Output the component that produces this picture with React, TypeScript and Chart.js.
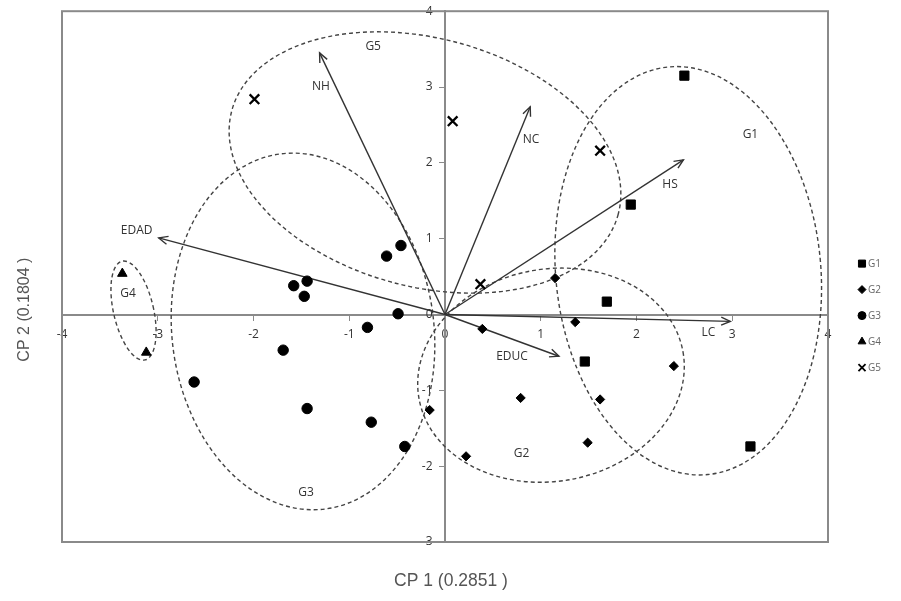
import React, { useEffect, useRef } from 'react';
import { Chart, registerables } from 'chart.js';
import { drawPoint } from 'chart.js/helpers';

Chart.register(...registerables);

// ---------- data ----------
const groupNames = ['G1', 'G2', 'G3', 'G4', 'G5'];

const g1X = [2.50, 1.94, 1.69, 1.46, 3.19];
const g1Y = [3.15, 1.45, 0.17, -0.62, -1.74];

const g2X = [0.39, 1.36, 2.39, 0.79, 1.62, 1.49, 0.22, 1.15, -0.16];
const g2Y = [-0.19, -0.10, -0.68, -1.10, -1.12, -1.69, -1.87, 0.48, -1.26];

const g3X = [-0.46, -0.61, -1.44, -1.58, -1.47, -0.49, -0.81, -1.69, -2.62, -1.44, -0.77, -0.42];
const g3Y = [0.91, 0.77, 0.44, 0.38, 0.24, 0.01, -0.17, -0.47, -0.89, -1.24, -1.42, -1.74];

const g4X = [-3.37, -3.12];
const g4Y = [0.54, -0.50];

const g5X = [-1.99, 0.08, 1.62, 0.37];
const g5Y = [2.84, 2.55, 2.16, 0.40];

// variable loadings (arrow tips)
const variableNames = ['NH', 'EDAD', 'NC', 'HS', 'LC', 'EDUC'];
const loadingX = [-1.31, -2.99, 0.89, 2.49, 2.98, 1.19];
const loadingY = [3.45, 1.01, 2.74, 2.04, -0.09, -0.55];

// label anchors (data units)
const variableLabelX = [-1.296, -3.22, 0.898, 2.35, 2.75, 0.70];
const variableLabelY = [3.00, 1.11, 2.31, 1.72, -0.24, -0.56];
const groupLabelX = [3.19, 0.80, -1.45, -3.31, -0.75];
const groupLabelY = [2.37, -1.84, -2.35, 0.275, 3.54];

// group ellipses (data units, rotation in degrees)
const ellipseCX = [2.54, 1.107, -1.483, -3.253, -0.209];
const ellipseCY = [0.577, -0.80, -0.223, 0.052, 2.005];
const ellipseRX = [1.384, 1.40, 1.368, 0.209, 2.089];
const ellipseRY = [2.70, 1.40, 2.36, 0.668, 1.638];
const ellipseRot = [-5.5, -10, -7, -13, 15];

const xTitle = 'CP 1 (0.2851 )';
const yTitle = 'CP 2 (0.1804 )';

const zip = (xs: number[], ys: number[]) => xs.map((x, i) => ({ x, y: ys[i] }));

const groupStyles: any[] = [
  { pointStyle: 'rect', radius: 6.5, legendRadius: 5, borderWidth: 1 },
  { pointStyle: 'rectRot', radius: 4.6, legendRadius: 4, borderWidth: 1 },
  { pointStyle: 'circle', radius: 5.2, legendRadius: 4, borderWidth: 1 },
  { pointStyle: 'triangle', radius: 5.5, legendRadius: 4.5, borderWidth: 1 },
  { pointStyle: 'crossRot', radius: 6.8, legendRadius: 5, borderWidth: 2.3 },
];

const AXIS_GRAY = '#8a8a8a';

const overlayPlugin = {
  id: 'overlay',
  beforeDatasetsDraw(chart: any) {
    const { ctx, chartArea, scales } = chart;
    const xs = scales.x;
    const ys = scales.y;
    const pxX = Math.abs(xs.getPixelForValue(1) - xs.getPixelForValue(0));
    const pxY = Math.abs(ys.getPixelForValue(0) - ys.getPixelForValue(1));
    ctx.save();
    // outer box
    ctx.strokeStyle = AXIS_GRAY;
    ctx.lineWidth = 2;
    ctx.strokeRect(chartArea.left, chartArea.top, chartArea.right - chartArea.left, chartArea.bottom - chartArea.top);
    // ellipses
    ctx.strokeStyle = '#444';
    ctx.lineWidth = 1.4;
    ctx.setLineDash([4, 3]);
    for (let i = 0; i < ellipseCX.length; i++) {
      ctx.beginPath();
      ctx.ellipse(
        xs.getPixelForValue(ellipseCX[i]),
        ys.getPixelForValue(ellipseCY[i]),
        ellipseRX[i] * pxX,
        ellipseRY[i] * pxY,
        (ellipseRot[i] * Math.PI) / 180,
        0,
        Math.PI * 2
      );
      ctx.stroke();
    }
    ctx.restore();
  },
  afterDatasetsDraw(chart: any) {
    const { ctx, chartArea, scales } = chart;
    const xs = scales.x;
    const ys = scales.y;
    ctx.save();
    // arrowheads
    ctx.strokeStyle = '#333';
    ctx.lineWidth = 1.4;
    ctx.setLineDash([]);
    chart.data.datasets.forEach((ds: any, di: number) => {
      if (!ds.isArrow) return;
      const meta = chart.getDatasetMeta(di);
      const p0 = meta.data[0];
      const p1 = meta.data[1];
      const ang = Math.atan2(p1.y - p0.y, p1.x - p0.x);
      const len = 10;
      const spread = 0.42;
      ctx.beginPath();
      ctx.moveTo(p1.x - len * Math.cos(ang - spread), p1.y - len * Math.sin(ang - spread));
      ctx.lineTo(p1.x, p1.y);
      ctx.lineTo(p1.x - len * Math.cos(ang + spread), p1.y - len * Math.sin(ang + spread));
      ctx.stroke();
    });
    // labels
    ctx.fillStyle = '#333';
    ctx.font = '12px "Open Sans"';
    ctx.textAlign = 'center';
    ctx.textBaseline = 'middle';
    variableNames.forEach((n, i) => {
      ctx.fillText(n, xs.getPixelForValue(variableLabelX[i]), ys.getPixelForValue(variableLabelY[i]));
    });
    groupNames.forEach((n, i) => {
      ctx.fillText(n, xs.getPixelForValue(groupLabelX[i]), ys.getPixelForValue(groupLabelY[i]));
    });
    // legend
    const lx = chartArea.right + 34;
    const ly0 = (chartArea.top + chartArea.bottom) / 2 - 13;
    ctx.font = '10px "Open Sans"';
    ctx.textAlign = 'left';
    groupNames.forEach((n, i) => {
      const st = groupStyles[i];
      const y = ly0 + i * 26;
      ctx.fillStyle = '#000';
      ctx.strokeStyle = '#000';
      ctx.lineWidth = i === 4 ? 1.8 : 1;
      drawPoint(ctx, { pointStyle: st.pointStyle, radius: st.legendRadius, borderWidth: i === 4 ? 1.8 : 1, rotation: 0 } as any, lx, y);
      ctx.fillStyle = '#666';
      ctx.fillText(n, lx + 6, y + 0.5);
    });
    // axis titles
    ctx.fillStyle = '#555';
    ctx.font = '17.5px "Liberation Sans"';
    ctx.textAlign = 'center';
    ctx.fillText(xTitle, (chartArea.left + chartArea.right) / 2 + 6, chart.height - 20);
    ctx.font = '16px "Liberation Sans"';
    ctx.translate(25, (chartArea.top + chartArea.bottom) / 2 + 33);
    ctx.rotate(-Math.PI / 2);
    ctx.fillText(yTitle, 0, 0);
    ctx.restore();
  },
};

export default function App() {
  const canvasRef = useRef<HTMLCanvasElement | null>(null);

  useEffect(() => {
    if (!canvasRef.current) return;
    const groupData = [zip(g1X, g1Y), zip(g2X, g2Y), zip(g3X, g3Y), zip(g4X, g4Y), zip(g5X, g5Y)];
    const pointSets = groupNames.map((name, i) => ({
      label: name,
      data: groupData[i],
      pointStyle: groupStyles[i].pointStyle,
      pointRadius: groupStyles[i].radius,
      pointBackgroundColor: '#000',
      pointBorderColor: '#000',
      pointBorderWidth: groupStyles[i].borderWidth,
      showLine: false,
    }));
    const arrowSets = variableNames.map((name, i) => ({
      label: name,
      isArrow: true,
      data: [{ x: 0, y: 0 }, { x: loadingX[i], y: loadingY[i] }],
      showLine: true,
      borderColor: '#333',
      borderWidth: 1.4,
      pointRadius: 0,
      pointHoverRadius: 0,
    }));

    const tickFont = { family: '"Open Sans"', size: 12 };
    const chart = new Chart(canvasRef.current, {
      type: 'scatter',
      data: { datasets: [...pointSets, ...arrowSets] as any },
      options: {
        animation: false,
        responsive: false,
        layout: { padding: { left: 62, right: 73, top: 8, bottom: 59 } },
        plugins: { legend: { display: false }, tooltip: { enabled: false } },
        scales: {
          x: {
            type: 'linear',
            min: -4,
            max: 4,
            position: { y: 0 } as any,
            ticks: { stepSize: 1, font: tickFont, color: '#333', padding: 8 },
            grid: { drawOnChartArea: false, drawTicks: true, tickLength: 5, color: AXIS_GRAY },
            border: { color: AXIS_GRAY, width: 2 },
          },
          y: {
            type: 'linear',
            min: -3,
            max: 4,
            position: { x: 0 } as any,
            ticks: {
              stepSize: 1,
              font: tickFont,
              color: '#333',
              padding: 4,
              callback: (v: any) => `${v}    `,
            },
            grid: { drawOnChartArea: false, drawTicks: true, tickLength: 5, color: AXIS_GRAY },
            border: { color: AXIS_GRAY, width: 2 },
          },
        },
      },
      plugins: [overlayPlugin],
    });
    return () => chart.destroy();
  }, []);

  return (
    <div style={{ position: 'fixed', left: 0, top: 0, width: 901, height: 601, background: '#fff' }}>
      <canvas ref={canvasRef} width={901} height={601} style={{ display: 'block' }} />
    </div>
  );
}
